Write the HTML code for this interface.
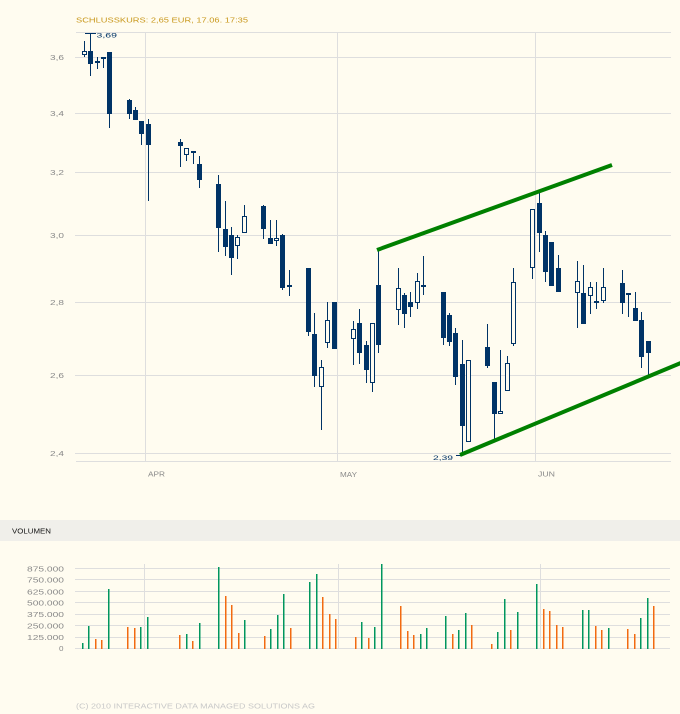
<!DOCTYPE html>
<html><head><meta charset="utf-8"><style>
html,body{margin:0;padding:0;background:#fffcf0;}
svg{display:block;}
text{font-family:"Liberation Sans",sans-serif;}
</style></head><body>
<svg width="680" height="714" viewBox="0 0 680 714" xmlns="http://www.w3.org/2000/svg">
<rect x="0" y="0" width="680" height="714" fill="#fffcf0"/>
<text x="76" y="22.5" font-size="7.5" fill="#c9981c" textLength="172" lengthAdjust="spacingAndGlyphs">SCHLUSSKURS: 2,65 EUR, 17.06. 17:35</text>
<g stroke="#dedede" stroke-width="1" shape-rendering="crispEdges" fill="none">
<line x1="76" y1="32.5" x2="671" y2="32.5"/>
<line x1="75" y1="57.5" x2="671" y2="57.5"/>
<line x1="75" y1="113.5" x2="671" y2="113.5"/>
<line x1="75" y1="172.5" x2="671" y2="172.5"/>
<line x1="75" y1="235.5" x2="671" y2="235.5"/>
<line x1="75" y1="302.5" x2="671" y2="302.5"/>
<line x1="75" y1="375.5" x2="671" y2="375.5"/>
<line x1="75" y1="453.5" x2="671" y2="453.5"/>
<line x1="76" y1="461.5" x2="671" y2="461.5"/>
<line x1="145.5" y1="32" x2="145.5" y2="462"/>
<line x1="337.5" y1="32" x2="337.5" y2="462"/>
<line x1="535.5" y1="32" x2="535.5" y2="462"/>
</g>
<g font-size="7.5" fill="#8a8a8a" text-anchor="end">
<text x="64" y="60" textLength="14" lengthAdjust="spacingAndGlyphs">3,6</text>
<text x="64" y="116" textLength="14" lengthAdjust="spacingAndGlyphs">3,4</text>
<text x="64" y="175" textLength="14" lengthAdjust="spacingAndGlyphs">3,2</text>
<text x="64" y="238" textLength="14" lengthAdjust="spacingAndGlyphs">3,0</text>
<text x="64" y="305" textLength="14" lengthAdjust="spacingAndGlyphs">2,8</text>
<text x="64" y="378" textLength="14" lengthAdjust="spacingAndGlyphs">2,6</text>
<text x="64" y="456" textLength="14" lengthAdjust="spacingAndGlyphs">2,4</text>
</g>
<g font-size="7.5" fill="#8a8a8a">
<text x="148" y="476.5" textLength="17" lengthAdjust="spacingAndGlyphs">APR</text>
<text x="340" y="476.8" textLength="17" lengthAdjust="spacingAndGlyphs">MAY</text>
<text x="538" y="476.5" textLength="17" lengthAdjust="spacingAndGlyphs">JUN</text>
</g>
<!-- candles -->
<g fill="#003366" shape-rendering="crispEdges">
<rect x="84" y="41" width="1" height="16"/>
<rect x="90" y="33" width="1" height="43"/><rect x="88" y="51" width="5" height="13"/>
<rect x="97" y="57" width="1" height="12"/><rect x="95" y="61" width="5" height="2"/>
<rect x="103" y="57" width="1" height="11"/><rect x="101" y="57" width="5" height="2"/>
<rect x="109" y="52" width="1" height="76"/><rect x="107" y="52" width="5" height="62"/>
<rect x="129" y="99" width="1" height="20"/><rect x="127" y="100" width="5" height="14"/>
<rect x="135" y="107" width="1" height="13"/><rect x="133" y="110" width="5" height="10"/>
<rect x="141" y="121" width="1" height="24"/><rect x="139" y="121" width="5" height="13"/>
<rect x="148" y="119" width="1" height="82"/><rect x="146" y="124" width="5" height="21"/>
<rect x="180" y="139" width="1" height="28"/><rect x="178" y="142" width="5" height="4"/>
<rect x="186" y="148" width="1" height="13"/>
<rect x="193" y="151" width="1" height="13"/><rect x="191" y="151" width="5" height="2"/>
<rect x="199" y="156" width="1" height="32"/><rect x="197" y="164" width="5" height="16"/>
<rect x="218" y="175" width="1" height="77"/><rect x="216" y="184" width="5" height="44"/>
<rect x="225" y="201" width="1" height="55"/><rect x="223" y="229" width="5" height="18"/>
<rect x="231" y="227" width="1" height="48"/><rect x="229" y="235" width="5" height="23"/>
<rect x="237" y="235" width="1" height="24"/>
<rect x="244" y="205" width="1" height="28"/>
<rect x="263" y="205" width="1" height="34"/><rect x="261" y="206" width="5" height="23"/>
<rect x="270" y="220" width="1" height="24"/><rect x="268" y="238" width="5" height="6"/>
<rect x="276" y="220" width="1" height="26"/>
<rect x="282" y="234" width="1" height="56"/><rect x="280" y="235" width="5" height="53"/>
<rect x="289" y="270" width="1" height="26"/><rect x="287" y="285" width="5" height="2"/>
<rect x="308" y="268" width="1" height="68"/><rect x="306" y="268" width="5" height="64"/>
<rect x="314" y="313" width="1" height="74"/><rect x="312" y="334" width="5" height="42"/>
<rect x="321" y="360" width="1" height="70"/>
<rect x="327" y="302" width="1" height="46"/>
<rect x="332" y="302" width="5" height="47"/>
<rect x="353" y="321" width="1" height="44"/>
<rect x="359" y="309" width="1" height="55"/><rect x="357" y="323" width="5" height="30"/>
<rect x="366" y="341" width="1" height="42"/><rect x="364" y="345" width="5" height="25"/>
<rect x="372" y="323" width="1" height="69"/>
<rect x="378" y="250" width="1" height="103"/><rect x="376" y="285" width="5" height="60"/>
<rect x="398" y="268" width="1" height="57"/>
<rect x="404" y="293" width="1" height="35"/><rect x="402" y="295" width="5" height="19"/>
<rect x="410" y="292" width="1" height="25"/><rect x="408" y="302" width="5" height="5"/>
<rect x="417" y="273" width="1" height="36"/>
<rect x="423" y="256" width="1" height="39"/><rect x="421" y="285" width="5" height="2"/>
<rect x="443" y="292" width="1" height="53"/><rect x="441" y="292" width="5" height="46"/>
<rect x="449" y="313" width="1" height="33"/><rect x="447" y="315" width="5" height="27"/>
<rect x="455" y="328" width="1" height="57"/><rect x="453" y="333" width="5" height="44"/>
<rect x="462" y="340" width="1" height="115"/><rect x="460" y="364" width="5" height="62"/>
<rect x="487" y="324" width="1" height="44"/><rect x="485" y="347" width="5" height="19"/>
<rect x="494" y="382" width="1" height="58"/><rect x="492" y="382" width="5" height="32"/>
<rect x="500" y="350" width="1" height="64"/>
<rect x="507" y="356" width="1" height="35"/>
<rect x="513" y="268" width="1" height="78"/>
<rect x="532" y="209" width="1" height="70"/>
<rect x="539" y="193" width="1" height="59"/><rect x="537" y="203" width="5" height="30"/>
<rect x="545" y="231" width="1" height="51"/><rect x="543" y="235" width="5" height="37"/>
<rect x="549" y="242" width="5" height="44"/>
<rect x="558" y="255" width="1" height="37"/><rect x="556" y="268" width="5" height="24"/>
<rect x="577" y="261" width="1" height="67"/>
<rect x="583" y="265" width="1" height="59"/><rect x="581" y="293" width="5" height="31"/>
<rect x="590" y="282" width="1" height="32"/>
<rect x="596" y="282" width="1" height="27"/><rect x="594" y="301" width="5" height="2"/>
<rect x="603" y="268" width="1" height="35"/>
<rect x="622" y="270" width="1" height="44"/><rect x="620" y="283" width="5" height="20"/>
<rect x="628" y="293" width="1" height="24"/><rect x="626" y="293" width="5" height="2"/>
<rect x="635" y="292" width="1" height="29"/><rect x="633" y="308" width="5" height="13"/>
<rect x="641" y="312" width="1" height="56"/><rect x="639" y="320" width="5" height="37"/>
<rect x="648" y="341" width="1" height="36"/><rect x="646" y="341" width="5" height="12"/>
<rect x="85" y="33" width="11" height="1"/>
<rect x="456" y="455" width="6" height="1"/>
</g>
<g fill="#fffcf0" stroke="#003366" stroke-width="1" shape-rendering="crispEdges">
<rect x="82.5" y="51.5" width="4" height="3"/>
<rect x="184.5" y="148.5" width="4" height="6"/>
<rect x="235.5" y="237.5" width="4" height="8"/>
<rect x="242.5" y="216.5" width="4" height="16"/>
<rect x="274.5" y="238.5" width="4" height="2"/>
<rect x="319.5" y="367.5" width="4" height="19"/>
<rect x="325.5" y="320.5" width="4" height="22"/>
<rect x="351.5" y="329.5" width="4" height="9"/>
<rect x="370.5" y="323.5" width="4" height="59"/>
<rect x="396.5" y="288.5" width="4" height="21"/>
<rect x="415.5" y="281.5" width="4" height="21"/>
<rect x="466.5" y="360.5" width="4" height="81"/>
<rect x="498.5" y="411.5" width="4" height="2"/>
<rect x="505.5" y="363.5" width="4" height="27"/>
<rect x="511.5" y="282.5" width="4" height="61"/>
<rect x="530.5" y="209.5" width="4" height="58"/>
<rect x="575.5" y="281.5" width="4" height="11"/>
<rect x="588.5" y="287.5" width="4" height="8"/>
<rect x="601.5" y="287.5" width="4" height="13"/>
</g>
<text x="96.5" y="37.6" font-size="6.5" fill="#003366" textLength="20.5" lengthAdjust="spacingAndGlyphs">3,69</text>
<text x="433" y="459.8" font-size="6.5" fill="#003366" textLength="20" lengthAdjust="spacingAndGlyphs">2,39</text>
<!-- trend lines -->
<g stroke="#008000" stroke-width="4" fill="none">
<line x1="377" y1="250" x2="612" y2="165"/>
<line x1="460" y1="455" x2="682" y2="362.5"/>
</g>
<!-- volume section -->
<rect x="0" y="520" width="680" height="21" fill="#f0efea"/>
<text x="12" y="533.5" font-size="7.5" fill="#111" textLength="39" lengthAdjust="spacingAndGlyphs">VOLUMEN</text>
<g stroke="#dedede" stroke-width="1" shape-rendering="crispEdges" fill="none">
<line x1="75" y1="568.5" x2="670" y2="568.5"/>
<line x1="75" y1="579.5" x2="670" y2="579.5"/>
<line x1="75" y1="591.5" x2="670" y2="591.5"/>
<line x1="75" y1="602.5" x2="670" y2="602.5"/>
<line x1="75" y1="614.5" x2="670" y2="614.5"/>
<line x1="75" y1="625.5" x2="670" y2="625.5"/>
<line x1="75" y1="637.5" x2="670" y2="637.5"/>
<line x1="75" y1="648.5" x2="670" y2="648.5"/>
<line x1="144.5" y1="564" x2="144.5" y2="649"/>
<line x1="338.5" y1="564" x2="338.5" y2="649"/>
<line x1="540.5" y1="564" x2="540.5" y2="649"/>
</g>
<g font-size="7.5" fill="#8a8a8a" text-anchor="end">
<text x="64" y="571.5" textLength="37" lengthAdjust="spacingAndGlyphs">875.000</text>
<text x="64" y="582.5" textLength="37" lengthAdjust="spacingAndGlyphs">750.000</text>
<text x="64" y="594.3" textLength="37" lengthAdjust="spacingAndGlyphs">625.000</text>
<text x="64" y="605.3" textLength="37" lengthAdjust="spacingAndGlyphs">500.000</text>
<text x="64" y="617" textLength="37" lengthAdjust="spacingAndGlyphs">375.000</text>
<text x="64" y="628.3" textLength="37" lengthAdjust="spacingAndGlyphs">250.000</text>
<text x="64" y="640" textLength="37" lengthAdjust="spacingAndGlyphs">125.000</text>
<text x="63.5" y="651" textLength="4.5" lengthAdjust="spacingAndGlyphs">0</text>
</g>
<g fill="#00965e" shape-rendering="crispEdges">
<rect x="82" y="643" width="1.5" height="6"/>
<rect x="88" y="626" width="1.5" height="23"/>
<rect x="108" y="589" width="1.5" height="60"/>
<rect x="140" y="627" width="1.5" height="22"/>
<rect x="147" y="617" width="1.5" height="32"/>
<rect x="186" y="634" width="1.5" height="15"/>
<rect x="199" y="623" width="1.5" height="26"/>
<rect x="218" y="567" width="1.5" height="82"/>
<rect x="244" y="620" width="1.5" height="29"/>
<rect x="270" y="629" width="1.5" height="20"/>
<rect x="277" y="615" width="1.5" height="34"/>
<rect x="283" y="594" width="1.5" height="55"/>
<rect x="309" y="582" width="1.5" height="67"/>
<rect x="316" y="574" width="1.5" height="75"/>
<rect x="361" y="622" width="1.5" height="27"/>
<rect x="374" y="627" width="1.5" height="22"/>
<rect x="381" y="564" width="1.5" height="85"/>
<rect x="420" y="634" width="1.5" height="15"/>
<rect x="426" y="628" width="1.5" height="21"/>
<rect x="445" y="616" width="1.5" height="33"/>
<rect x="458" y="630" width="1.5" height="19"/>
<rect x="465" y="613" width="1.5" height="36"/>
<rect x="497" y="632" width="1.5" height="17"/>
<rect x="504" y="599" width="1.5" height="50"/>
<rect x="517" y="612" width="1.5" height="37"/>
<rect x="536" y="584" width="1.5" height="65"/>
<rect x="582" y="610" width="1.5" height="39"/>
<rect x="588" y="610" width="1.5" height="39"/>
<rect x="608" y="628" width="1.5" height="21"/>
<rect x="640" y="618" width="1.5" height="31"/>
<rect x="647" y="598" width="1.5" height="51"/>
</g>
<g fill="#f26a10" shape-rendering="crispEdges">
<rect x="95" y="639" width="1.5" height="10"/>
<rect x="101" y="640" width="1.5" height="9"/>
<rect x="127" y="627" width="1.5" height="22"/>
<rect x="134" y="628" width="1.5" height="21"/>
<rect x="179" y="635" width="1.5" height="14"/>
<rect x="192" y="641" width="1.5" height="8"/>
<rect x="225" y="596" width="1.5" height="53"/>
<rect x="231" y="605" width="1.5" height="44"/>
<rect x="238" y="633" width="1.5" height="16"/>
<rect x="264" y="636" width="1.5" height="13"/>
<rect x="290" y="628" width="1.5" height="21"/>
<rect x="322" y="597" width="1.5" height="52"/>
<rect x="329" y="614" width="1.5" height="35"/>
<rect x="335" y="619" width="1.5" height="30"/>
<rect x="355" y="637" width="1.5" height="12"/>
<rect x="368" y="638" width="1.5" height="11"/>
<rect x="400" y="606" width="1.5" height="43"/>
<rect x="407" y="631" width="1.5" height="18"/>
<rect x="413" y="635" width="1.5" height="14"/>
<rect x="452" y="634" width="1.5" height="15"/>
<rect x="471" y="625" width="1.5" height="24"/>
<rect x="491" y="644" width="1.5" height="5"/>
<rect x="510" y="630" width="1.5" height="19"/>
<rect x="543" y="609" width="1.5" height="40"/>
<rect x="549" y="611" width="1.5" height="38"/>
<rect x="556" y="625" width="1.5" height="24"/>
<rect x="562" y="627" width="1.5" height="22"/>
<rect x="595" y="626" width="1.5" height="23"/>
<rect x="601" y="630" width="1.5" height="19"/>
<rect x="627" y="629" width="1.5" height="20"/>
<rect x="634" y="634" width="1.5" height="15"/>
<rect x="653" y="606" width="1.5" height="43"/>
</g>
<text x="76" y="708.7" font-size="7.5" fill="#c8c8c8" textLength="239" lengthAdjust="spacingAndGlyphs">(C) 2010 INTERACTIVE DATA MANAGED SOLUTIONS AG</text>
</svg>
</body></html>
